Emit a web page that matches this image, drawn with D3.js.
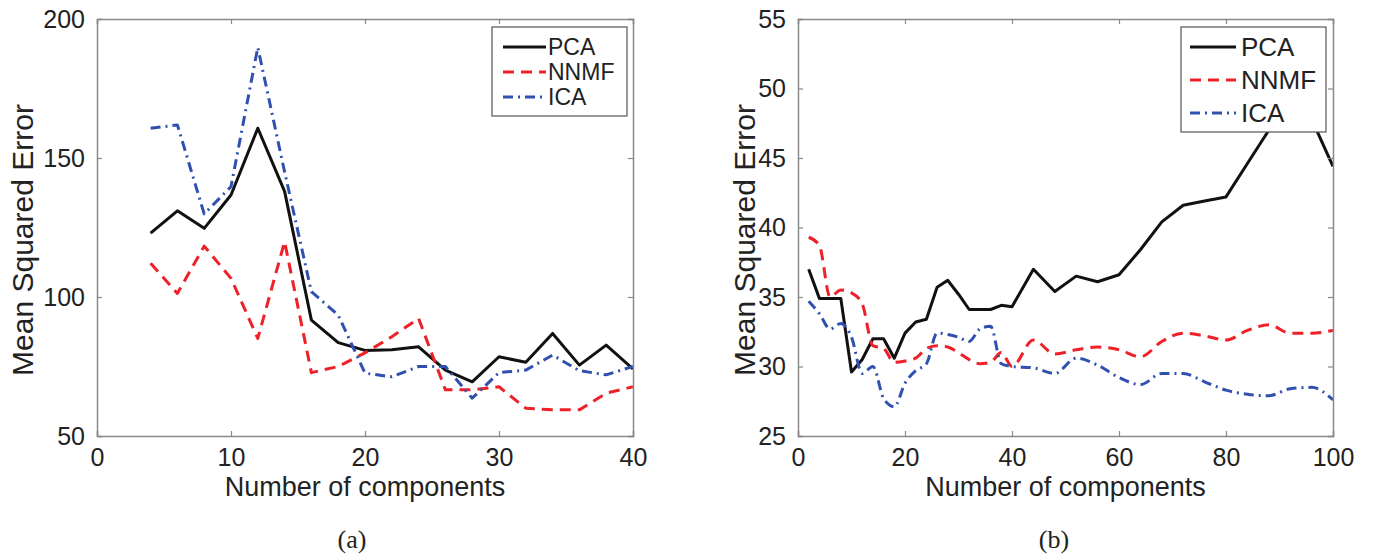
<!DOCTYPE html>
<html>
<head>
<meta charset="utf-8">
<script src="https://cdn.jsdelivr.net/npm/d3@7"></script>
<style>
  body { margin: 0; background: #fff; }
  svg { display: block; }
  text { font-family: "Liberation Sans", Arial, sans-serif; fill: #222; }
</style>
</head>
<body>
<svg id="chart" width="1374" height="559"></svg>
<script>
// Panel (a): components 4..40
const compsA = [4, 6, 8, 10, 12, 14, 16, 18, 20, 22, 24, 26, 28, 30, 32, 34, 36, 38, 40];
const pcaA  = [123, 131, 124.7, 136.7, 160.7, 138, 91.7, 83.6, 80.8, 81, 82.1, 73.7, 69.5, 78.5, 76.5, 86.9, 75.5, 82.7, 74.1];
const nnmfA = [112.1, 101.3, 118.3, 106.7, 85.1, 119.9, 72.8, 75, 79.9, 85.7, 92.3, 66.6, 66.6, 67.7, 60, 59.4, 59.4, 65.4, 67.7];
const icaA  = [160.7, 161.9, 129.9, 139.7, 189.8, 145, 101.9, 93.5, 72.6, 71.3, 75, 75, 63.6, 72.8, 73.7, 79.1, 73.5, 72, 75];

// Panel (b): components 2..100
const compsB = [2, 4, 6, 8, 10, 12, 14, 16, 18, 20, 22, 24, 26, 28, 30, 32, 34, 36, 38, 40,
                44, 48, 52, 56, 60, 64, 68, 72, 76, 80, 84, 88, 92, 96, 100];
const pcaB  = [37, 34.9, 34.9, 34.9, 29.6, 30.5, 32, 32, 30.6, 32.4, 33.2, 33.4, 35.7, 36.2, 35.2, 34.1, 34.1, 34.1, 34.4, 34.3,
               37, 35.4, 36.5, 36.1, 36.6, 38.4, 40.4, 41.6, 41.9, 42.2, 44.6, 47, 49.5, 47.8, 44.4];
const nnmfB = [39.3, 38.7, 35, 35.5, 35.3, 34.5, 31.5, 31.3, 30.3, 30.4, 30.6, 31.3, 31.5, 31.4, 31, 30.5, 30.2, 30.3, 31, 30,
               31.9, 30.9, 31.2, 31.4, 31.2, 30.7, 31.8, 32.4, 32.2, 31.9, 32.6, 33, 32.4, 32.4, 32.6];
const icaB  = [34.7, 33.8, 32.7, 33.1, 32.1, 29.5, 30, 27.7, 27.1, 28.8, 29.7, 30.2, 32.4, 32.3, 32.1, 31.8, 32.7, 32.9, 30.2, 30,
               29.9, 29.5, 30.6, 30.1, 29.2, 28.7, 29.5, 29.5, 28.9, 28.3, 28, 27.9, 28.4, 28.5, 27.6];

const methods = ["PCA", "NNMF", "ICA"];
const xTicksA = [0, 10, 20, 30, 40];
const yTicksA = [50, 100, 150, 200];
const xTicksB = [0, 20, 40, 60, 80, 100];
const yTicksB = [25, 30, 35, 40, 45, 50, 55];

const styles = {
  PCA:  { color: "#111111", dash: null },
  NNMF: { color: "#ee2028", dash: "11,7" },
  ICA:  { color: "#3050b0", dash: "10,5,2,5" }
};

const svg = d3.select("#chart");

function drawPanel(opt) {
  const { id, left, right, top, bottom, xDomain, yDomain, xTicks, yTicks, series, curve, legend, caption, captionX, yTitleX } = opt;
  const x = d3.scaleLinear().domain(xDomain).range([left, right]);
  const y = d3.scaleLinear().domain(yDomain).range([bottom, top]);
  const g = svg.append("g");

  g.append("clipPath").attr("id", "clip-" + id)
    .append("rect").attr("x", left).attr("y", top).attr("width", right - left).attr("height", bottom - top);

  // lines
  const lines = g.append("g").attr("clip-path", `url(#clip-${id})`);
  series.forEach(s => {
    const st = styles[s.name];
    const line = d3.line().x((d, i) => x(s.xs[i])).y(d => y(d)).curve(s.name === "PCA" ? d3.curveLinear : curve);
    lines.append("path")
      .attr("d", line(s.values))
      .attr("fill", "none")
      .attr("stroke", st.color)
      .attr("stroke-width", 3)
      .attr("stroke-linejoin", "round")
      .attr("stroke-dasharray", st.dash);
  });

  // box + inward ticks on all four sides
  const axisColor = "#8a8a8a";
  const tl = 5;
  const axB = g.append("g").attr("transform", `translate(0,${bottom})`)
    .call(d3.axisBottom(x).tickValues(xTicks).tickSize(-tl).tickPadding(10).tickFormat(d3.format("d")));
  const axT = g.append("g").attr("transform", `translate(0,${top})`)
    .call(d3.axisTop(x).tickValues(xTicks).tickSize(-tl).tickFormat(""));
  const axL = g.append("g").attr("transform", `translate(${left},0)`)
    .call(d3.axisLeft(y).tickValues(yTicks).tickSize(-tl).tickPadding(12).tickFormat(d3.format("d")));
  const axR = g.append("g").attr("transform", `translate(${right},0)`)
    .call(d3.axisRight(y).tickValues(yTicks).tickSize(-tl).tickFormat(""));
  [axB, axT, axL, axR].forEach(a => {
    a.select(".domain").attr("stroke", axisColor).attr("stroke-width", 1.5);
    a.selectAll(".tick line").attr("stroke", axisColor).attr("stroke-width", 1.2);
    a.selectAll("text").attr("font-size", 25).attr("fill", "#222")
      .style("font-family", "'Liberation Sans', Arial, sans-serif");
  });
  axB.selectAll("text").attr("dy", "0.78em");

  // axis titles
  g.append("text")
    .attr("x", (left + right) / 2).attr("y", bottom + 60)
    .attr("text-anchor", "middle").attr("font-size", 27)
    .text("Number of components");
  g.append("text")
    .attr("transform", `translate(${yTitleX},240) rotate(-90)`)
    .attr("text-anchor", "middle").attr("font-size", 30)
    .text("Mean Squared Error");

  // legend
  const lg = g.append("g");
  lg.append("rect")
    .attr("x", legend.x).attr("y", legend.y).attr("width", legend.w).attr("height", legend.h)
    .attr("fill", "#fff").attr("stroke", "#555").attr("stroke-width", 1.2);
  methods.forEach((m, i) => {
    const ry = legend.y + legend.rowTop + i * legend.rowH;
    const st = styles[m];
    lg.append("line")
      .attr("x1", legend.x + legend.lx1).attr("x2", legend.x + legend.lx2)
      .attr("y1", ry).attr("y2", ry)
      .attr("stroke", st.color).attr("stroke-width", 3)
      .attr("stroke-dasharray", st.dash);
    lg.append("text")
      .attr("x", legend.x + legend.lx2 + legend.gap).attr("y", ry)
      .attr("dy", "0.36em").attr("font-size", legend.fs)
      .text(m);
  });

  // caption
  g.append("text")
    .attr("x", captionX).attr("y", 548)
    .attr("text-anchor", "middle").attr("font-size", 26)
    .style("font-family", "'Liberation Serif', 'Times New Roman', serif")
    .text(caption);
}

drawPanel({
  id: "a", left: 97, right: 633, top: 19, bottom: 436,
  xDomain: [0, 40], yDomain: [50, 200], xTicks: xTicksA, yTicks: yTicksA,
  series: [
    { name: "PCA", xs: compsA, values: pcaA },
    { name: "NNMF", xs: compsA, values: nnmfA },
    { name: "ICA", xs: compsA, values: icaA }
  ],
  curve: d3.curveLinear,
  legend: { x: 492, y: 27, w: 135, h: 89, rowTop: 20, rowH: 25, lx1: 11, lx2: 54, gap: 2, fs: 23 },
  caption: "(a)", captionX: 352, yTitleX: 33
});

drawPanel({
  id: "b", left: 798, right: 1333, top: 19, bottom: 436,
  xDomain: [0, 100], yDomain: [25, 55], xTicks: xTicksB, yTicks: yTicksB,
  series: [
    { name: "PCA", xs: compsB, values: pcaB },
    { name: "NNMF", xs: compsB, values: nnmfB },
    { name: "ICA", xs: compsB, values: icaB }
  ],
  curve: d3.curveMonotoneX,
  legend: { x: 1181, y: 27, w: 145, h: 105, rowTop: 20, rowH: 33, lx1: 9, lx2: 55, gap: 5, fs: 26 },
  caption: "(b)", captionX: 1054, yTitleX: 755
});
</script>
</body>
</html>
